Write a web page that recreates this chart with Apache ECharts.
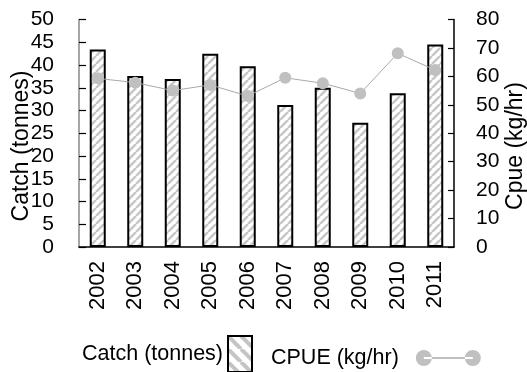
<!DOCTYPE html>
<html>
<head>
<meta charset="utf-8">
<script src="https://cdn.jsdelivr.net/npm/echarts@6/dist/echarts.min.js"></script>
<style>
  html, body { margin: 0; padding: 0; background: #fff; }
  #chart { width: 527px; height: 372px; }
</style>
</head>
<body>
<div id="chart"></div>
<script>
// Annual catch and catch-per-unit-effort
const years = ['2002', '2003', '2004', '2005', '2006', '2007', '2008', '2009', '2010', '2011'];
const catchTonnes = [43.4, 37.6, 36.9, 42.5, 39.7, 31.2, 35.0, 27.3, 33.8, 44.5];
const cpueKgHr = [59.3, 57.8, 55.0, 57.0, 53.1, 59.5, 57.6, 54.0, 68.1, 62.2];

const FONT = '"Liberation Sans", Arial, sans-serif';

// Diagonal hatch tile for bar fills
function hatchTile(size, width, color, forward) {
  const c = document.createElement('canvas');
  c.width = size; c.height = size;
  const ctx = c.getContext('2d');
  ctx.fillStyle = '#fff';
  ctx.fillRect(0, 0, size, size);
  ctx.strokeStyle = color;
  ctx.lineWidth = width;
  ctx.beginPath();
  for (let k = -1; k <= 1; k++) {
    if (forward) {
      ctx.moveTo(k * size, size); ctx.lineTo(k * size + size, 0);
    } else {
      ctx.moveTo(k * size, 0); ctx.lineTo(k * size + size, size);
    }
  }
  ctx.stroke();
  return c;
}

const barHatch = hatchTile(8, 2.6, '#c8c8c8', true);
const keyHatch = hatchTile(13, 4, '#c4c4c4', false);

const chart = echarts.init(document.getElementById('chart'), null, { renderer: 'canvas' });

const cpueIcon = 'path://M0,8a8,8 0 1,0 16,0a8,8 0 1,0 -16,0z M49,8a8,8 0 1,0 16,0a8,8 0 1,0 -16,0z M8,7h49v2h-49z';

chart.setOption({
  animation: false,
  backgroundColor: '#fff',
  textStyle: { fontFamily: FONT, color: '#000' },
  grid: { left: 79, right: 73, top: 19.5, bottom: 125 },
  // Axis titles, rotated to read upward
  graphic: [
    {
      type: 'text', x: 22, y: 146, rotation: Math.PI / 2,
      style: { text: 'Catch (tonnes)', font: '23px ' + FONT, fill: '#000', align: 'center', verticalAlign: 'middle' }
    },
    {
      type: 'text', x: 516, y: 146, rotation: Math.PI / 2,
      style: { text: 'Cpue (kg/hr)', font: '23px ' + FONT, fill: '#000', align: 'center', verticalAlign: 'middle' }
    }
  ],
  legend: [
    {
      left: 82, top: 335, padding: 0,
      align: 'right',
      itemWidth: 24, itemHeight: 36,
      selectedMode: false,
      textStyle: { fontFamily: FONT, fontSize: 21.5, color: '#000' },
      data: [{
        name: 'Catch (tonnes)', icon: 'rect',
        itemStyle: { color: { image: keyHatch, repeat: 'repeat' }, borderColor: '#000', borderWidth: 2 }
      }]
    },
    {
      left: 271, top: 347, padding: 0,
      align: 'right',
      itemWidth: 65, itemHeight: 16,
      selectedMode: false,
      textStyle: { fontFamily: FONT, fontSize: 21.5, color: '#000', padding: [0, 12, 0, 0] },
      data: [{
        name: 'CPUE (kg/hr)', icon: cpueIcon,
        itemStyle: { color: '#c0c0c0', borderWidth: 0 }
      }]
    }
  ],
  xAxis: {
    type: 'category',
    data: years,
    boundaryGap: true,
    axisLine: { lineStyle: { color: '#000', width: 1.5 } },
    axisTick: { inside: true, length: 7, lineStyle: { color: '#000', width: 1.2 } },
    axisLabel: { rotate: 90, fontSize: 22, margin: 14, color: '#000', fontFamily: FONT }
  },
  yAxis: [
    {
      type: 'value', min: 0, max: 50, interval: 5,
      splitLine: { show: false },
      axisLine: { show: true, lineStyle: { color: '#888', width: 1.5 } },
      axisTick: { show: true, inside: true, length: 7, lineStyle: { color: '#000', width: 1.2 } },
      axisLabel: { fontSize: 21, margin: 25, color: '#000', fontFamily: FONT }
    },
    {
      type: 'value', min: 0, max: 80, interval: 10, position: 'right',
      splitLine: { show: false },
      axisLine: { show: true, lineStyle: { color: '#000', width: 1.5 } },
      axisTick: { show: true, inside: true, length: 6, lineStyle: { color: '#000', width: 1.2 } },
      axisLabel: { fontSize: 21, margin: 22, color: '#000', fontFamily: FONT }
    }
  ],
  series: [
    {
      name: 'Catch (tonnes)',
      type: 'bar',
      yAxisIndex: 0,
      data: catchTonnes,
      barWidth: 16,
      itemStyle: { color: { image: barHatch, repeat: 'repeat' }, borderColor: '#000', borderWidth: 2 }
    },
    {
      name: 'CPUE (kg/hr)',
      type: 'line',
      yAxisIndex: 1,
      data: cpueKgHr,
      symbol: 'circle',
      symbolSize: 12,
      lineStyle: { color: '#aaa', width: 1 },
      itemStyle: { color: '#c0c0c0', borderWidth: 0 },
      z: 5
    }
  ]
});
</script>
</body>
</html>
